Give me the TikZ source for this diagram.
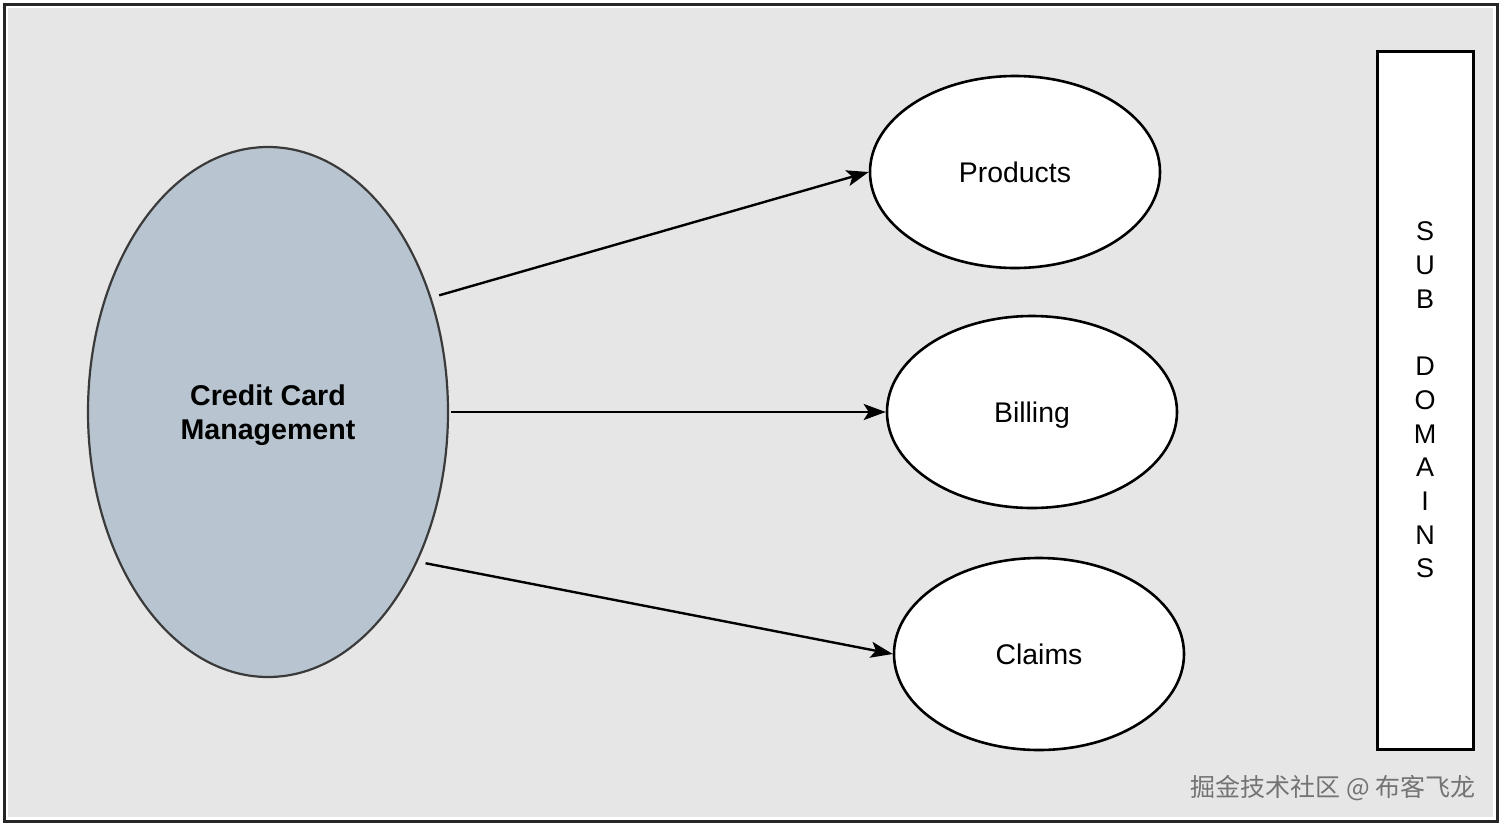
\documentclass[tikz,border=0pt]{standalone}
\usepackage{fontspec}
\setmainfont{Liberation Sans}
\newfontfamily\cjkfont{Noto Sans CJK SC}
\usetikzlibrary{arrows.meta,shapes.geometric}
\definecolor{bggray}{HTML}{E6E6E6}
\definecolor{mainfill}{HTML}{B8C5D0}
\definecolor{mainline}{HTML}{3A3A3A}
\tikzset{
  mainell/.style={ellipse, draw=mainline, fill=mainfill, line width=1.1pt,
    minimum width=180pt, minimum height=265pt, inner sep=0pt, text depth=0pt,
    font=\fontsize{14.3}{17}\selectfont\bfseries, align=center},
  subell/.style={ellipse, draw=black, fill=white, line width=1.3pt,
    minimum width=145pt, minimum height=96pt, inner sep=0pt, text depth=0pt,
    font=\fontsize{14.2}{17}\selectfont},
  conn/.style={-{Stealth[length=11pt,width=8pt,inset=2.5pt]}, line width=1.2pt, black},
  sidebox/.style={draw=black, fill=white, line width=1.5pt, minimum width=48pt,
    minimum height=349pt, inner sep=0pt},
  sidetext/.style={font=\fontsize{13.5}{16.85}\selectfont, align=center, inner sep=0pt},
  wmark/.style={font=\cjkfont\fontsize{12.5}{15}\selectfont, text=black!55, inner sep=0pt}
}
\begin{document}
\begin{tikzpicture}[x=0.5pt,y=-0.5pt]
\useasboundingbox (0,0) rectangle (1501,826);
\fill[white] (0,0) rectangle (1501,826);
\draw[line width=1.5pt, black!85, fill=white] (4,4) rectangle (1497,821);
\fill[bggray] (8,8) rectangle (1493,817);

\node[mainell] (cc) at (268,412) {Credit Card\\Management};
\node[subell] (prod) at (1015,172) {Products};
\node[subell] (bill) at (1032,412) {Billing};
\node[subell] (claim) at (1039,654) {Claims};

\node[sidebox] (side) at (1425,400) {};
\node[sidetext] (sidelabel) at (1425,400) {S\\U\\B\\[16.85pt]D\\O\\M\\A\\I\\N\\S};

\draw[conn, shorten <=4pt] (cc.35) -- (prod.west);
\draw[conn, shorten <=1pt] (cc.east) -- (bill.west);
\draw[conn, shorten <=4pt] (cc.-45) -- (claim.west);

\node[wmark, anchor=east] (wm) at (1476,788) {掘金技术社区 @ 布客飞龙};
\end{tikzpicture}
\end{document}
